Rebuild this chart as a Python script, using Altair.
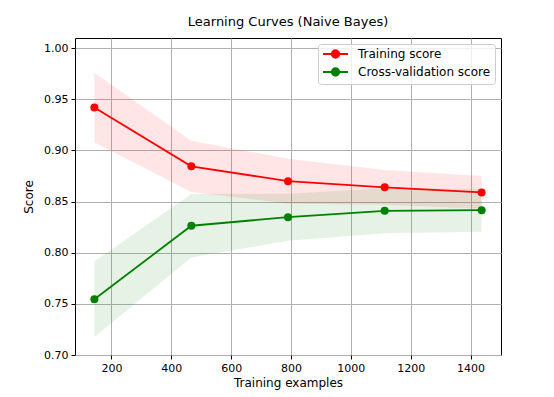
import altair as alt
import pandas as pd

# ---- data ----
sizes = [143, 467, 790, 1113, 1437]
train_mean = [0.942, 0.8845, 0.870, 0.864, 0.859]
train_std = [0.034, 0.025, 0.022, 0.017, 0.016]
test_mean = [0.7546, 0.8264, 0.8348, 0.841, 0.8416]
test_std = [0.037, 0.031, 0.023, 0.022, 0.021]
series = ["Training score", "Cross-validation score"]
colors = ["#ff0000", "#008000"]
x_ticks = [200, 400, 600, 800, 1000, 1200, 1400]
y_ticks = [0.70, 0.75, 0.80, 0.85, 0.90, 0.95, 1.00]

rows = []
for name, means, stds in [(series[0], train_mean, train_std), (series[1], test_mean, test_std)]:
    for s, m, sd in zip(sizes, means, stds):
        rows.append({"series": name, "n": s, "score": m, "lo": m - sd, "hi": m + sd})
df = pd.DataFrame(rows)

xscale = alt.Scale(domain=[78.3, 1501.7], nice=False, zero=False)
yscale = alt.Scale(domain=[0.70, 1.01], nice=False, zero=False)
cscale = alt.Scale(domain=series, range=colors)

xaxis = alt.Axis(values=x_ticks, title="Training examples", format="d")
yaxis = alt.Axis(values=y_ticks, title="Score", format=".2f")

# legend handle: a short line with a marker in its middle
legend_path = "M-1,0 L4,0 M0.75,0 A0.75,0.75 0 1,0 2.25,0 A0.75,0.75 0 1,0 0.75,0"
leg = alt.Legend(title=None, orient="top-right", symbolType=legend_path)

base = alt.Chart(df)

band = base.mark_area(opacity=0.1).encode(
    x=alt.X("n:Q", scale=xscale, axis=xaxis),
    y=alt.Y("lo:Q", scale=yscale, axis=yaxis),
    y2="hi:Q",
    fill=alt.Fill("series:N", scale=cscale, sort=series, legend=leg),
)

line = base.mark_line(strokeWidth=1.8).encode(
    x=alt.X("n:Q", scale=xscale),
    y=alt.Y("score:Q", scale=yscale),
    stroke=alt.Stroke("series:N", scale=cscale, sort=series, legend=leg),
)

pts = base.mark_circle(size=64, opacity=1).encode(
    x=alt.X("n:Q", scale=xscale),
    y=alt.Y("score:Q", scale=yscale),
    fill=alt.Fill("series:N", scale=cscale, sort=series, legend=leg),
)

chart = alt.layer(band, line, pts).properties(
    width=426,
    height=317,
    title=alt.TitleParams("Learning Curves (Naive Bayes)", fontSize=13, fontWeight="normal",
                          font="DejaVu Sans", color="#000000", offset=9),
    autosize=alt.AutoSizeParams(type="none"),
    padding={"left": 67, "top": 30, "right": 45, "bottom": 37},
).configure_view(
    stroke="#000000", strokeWidth=1
).configure_axis(
    grid=True, gridColor="#b0b0b0", gridWidth=1, domain=False,
    tickColor="#000000", tickSize=4, tickWidth=1,
    labelFont="DejaVu Sans", labelFontSize=11, labelColor="#000000", labelPadding=3,
    titleFont="DejaVu Sans", titleFontSize=12, titleColor="#000000", titleFontWeight="normal",
).configure_axisX(titlePadding=4).configure_axisY(titlePadding=8).configure_legend(
    fillColor="rgba(255,255,255,0.8)", strokeColor="#cccccc", cornerRadius=3,
    padding=4, offset=6, labelFont="DejaVu Sans", labelFontSize=12, labelColor="#000000",
    symbolSize=100, symbolStrokeWidth=1.8, symbolOpacity=1, labelOffset=24,
    rowPadding=2,
)

chart.save("out.html", embed_options={"renderer": "svg", "actions": False})
